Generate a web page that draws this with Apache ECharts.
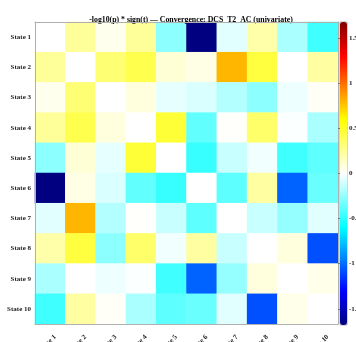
<!DOCTYPE html>
<html>
<head>
<meta charset="utf-8">
<script src="https://cdn.jsdelivr.net/npm/echarts@6/dist/echarts.min.js"></script>
<style>html,body{margin:0;padding:0;background:#fff;}#c{width:356px;height:342px;}</style>
</head>
<body>
<div id="c"></div>
<script>
const titleText = '-log10(p) * sign(t) \u2014 Convergence: DCS_T2_AC (univariate)';
const states = ['State 1','State 2','State 3','State 4','State 5','State 6','State 7','State 8','State 9','State 10'];
const row1  = [ 0.00,  0.24,  0.04,  0.24, -0.27, -1.68, -0.07,  0.20, -0.20, -0.45];
const row2  = [ 0.24,  0.00,  0.33,  0.42,  0.10,  0.06,  0.80,  0.45,  0.00,  0.22];
const row3  = [ 0.04,  0.33,  0.00,  0.08, -0.06, -0.09, -0.18, -0.27, -0.04,  0.02];
const row4  = [ 0.24,  0.42,  0.08,  0.00,  0.47, -0.37,  0.01,  0.35, -0.01, -0.20];
const row5  = [-0.27,  0.10, -0.06,  0.47,  0.00, -0.47, -0.13, -0.03, -0.45, -0.38];
const row6  = [-1.68,  0.06, -0.09, -0.37, -0.47,  0.00, -0.38,  0.22, -1.03, -0.35];
const row7  = [-0.07,  0.80, -0.18,  0.01, -0.13, -0.38,  0.00, -0.13, -0.25, -0.07];
const row8  = [ 0.20,  0.45, -0.27,  0.35, -0.03,  0.22, -0.13,  0.00,  0.08, -1.08];
const row9  = [-0.20,  0.00, -0.04, -0.01, -0.45, -1.03, -0.25,  0.08,  0.00,  0.05];
const row10 = [-0.45,  0.22,  0.02, -0.20, -0.38, -0.35, -0.07, -1.08,  0.05,  0.00];
const rows = [row1,row2,row3,row4,row5,row6,row7,row8,row9,row10];
const cmin = -1.68, cmax = 1.68;

// colormap (style)
const stops = [
  [-1.68,[0,0,128]],[-1.3,[0,0,255]],[-0.6,[0,255,255]],[0,[255,255,255]],
  [0.6,[255,255,0]],[1.3,[255,0,0]],[1.68,[128,0,0]]
];
function cmap(v){
  for(let i=0;i<stops.length-1;i++){
    const a=stops[i], b=stops[i+1];
    if(v<=b[0]){
      const t=Math.max(0,(v-a[0])/(b[0]-a[0]));
      const c=a[1].map((x,k)=>Math.round(x+(b[1][k]-x)*t));
      return 'rgb('+c.join(',')+')';
    }
  }
  const l=stops[stops.length-1][1];return 'rgb('+l.join(',')+')';
}
const nCol=85, colors=[];
for(let i=0;i<nCol;i++){colors.push(cmap(cmin+(cmax-cmin)*i/(nCol-1)));}

const data=[];
rows.forEach((r,yi)=>r.forEach((v,xi)=>data.push([xi,yi,v])));

const font='Liberation Serif';
const axisCol='#b0b0b0';
const chart=echarts.init(document.getElementById('c'),null,{renderer:'canvas'});
chart.setOption({
  animation:false,
  backgroundColor:'#fff',
  title:{text:titleText,left:186,top:11,textAlign:'center',
    textStyle:{fontFamily:font,fontWeight:'bold',fontSize:7.8,color:'#000'}},
  grid:[
    {left:35,top:22,width:303,height:302,show:false,containLabel:false,outerBoundsMode:'none'},
    {left:340,top:22,width:7,height:303,show:true,borderColor:'#999',borderWidth:0.8,backgroundColor:'transparent',containLabel:false,outerBoundsMode:'none'}
  ],
  xAxis:[
    {type:'category',gridIndex:0,data:states,position:'bottom',z:10,
      axisLine:{lineStyle:{color:axisCol}},
      axisTick:{inside:true,alignWithLabel:true,length:3,lineStyle:{color:'#777'}},
      axisLabel:{rotate:45,fontFamily:font,fontWeight:'bold',fontSize:7,color:'#222',margin:17,padding:[0,-7,0,0],interval:0}},
    {type:'category',gridIndex:0,data:states,position:'top',z:10,
      axisLine:{lineStyle:{color:axisCol}},
      axisTick:{inside:true,alignWithLabel:true,length:3,lineStyle:{color:'#777'}},
      axisLabel:{show:false}},
    {type:'value',gridIndex:1,show:false,min:0,max:1}
  ],
  yAxis:[
    {type:'category',gridIndex:0,data:states,inverse:true,position:'left',z:10,
      axisLine:{lineStyle:{color:axisCol}},
      axisTick:{inside:true,alignWithLabel:true,length:3,lineStyle:{color:'#777'}},
      axisLabel:{fontFamily:font,fontWeight:'bold',fontSize:7,color:'#222',margin:4,interval:0}},
    {type:'category',gridIndex:0,data:states,inverse:true,position:'right',z:10,
      axisLine:{lineStyle:{color:axisCol}},
      axisTick:{inside:true,alignWithLabel:true,length:3,lineStyle:{color:'#777'}},
      axisLabel:{show:false}},
    {type:'value',gridIndex:1,position:'right',min:cmin,max:cmax,splitNumber:6,z:10,
      axisLine:{show:false},splitLine:{show:false},
      axisTick:{inside:true,length:2,lineStyle:{color:'#777'}},
      axisLabel:{showMinLabel:false,showMaxLabel:false,fontFamily:font,fontWeight:'bold',fontSize:7,color:'#222',margin:2}}
  ],
  visualMap:{
    type:'continuous',seriesIndex:0,min:cmin,max:cmax,calculable:false,orient:'vertical',
    left:340,top:22,itemWidth:7,itemHeight:303,padding:0,text:null,showLabel:false,
    inRange:{color:colors}
  },
  series:[{
    type:'heatmap',xAxisIndex:0,yAxisIndex:0,data:data,
    itemStyle:{borderWidth:0},emphasis:{disabled:true}
  }]
});
</script>
</body>
</html>
